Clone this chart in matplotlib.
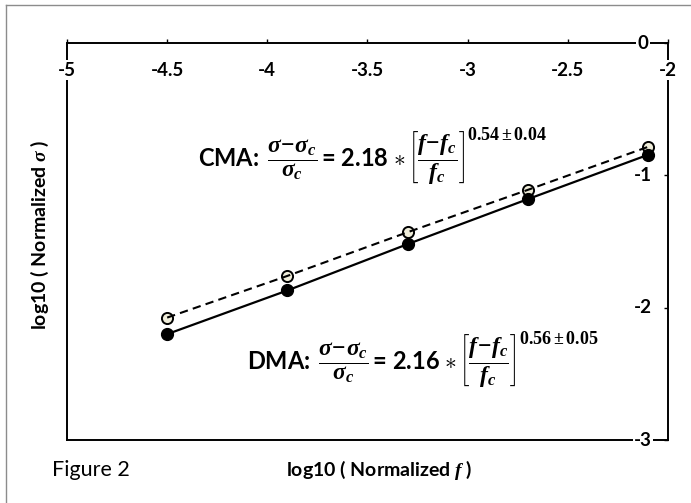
import matplotlib
matplotlib.use("Agg")
import matplotlib.pyplot as plt
from matplotlib.lines import Line2D

plt.rcParams['font.family'] = ['Lato', 'DejaVu Sans']
plt.rcParams['mathtext.fontset'] = 'custom'
plt.rcParams['mathtext.rm'] = 'Liberation Serif:bold'
plt.rcParams['mathtext.it'] = 'Liberation Serif:italic:bold'
plt.rcParams['mathtext.bf'] = 'Liberation Serif:bold'

# data
log_f = [-4.5, -3.9, -3.3, -2.7, -2.1]
dma_sigma = [-2.20, -1.87, -1.52, -1.18, -0.845]
cma_sigma = [-2.075, -1.76, -1.43, -1.11, -0.785]

x_ticks = [-5, -4.5, -4, -3.5, -3, -2.5, -2]
x_tick_labels = ['-5', '-4.5', '-4', '-3.5', '-3', '-2.5', '-2']
y_ticks = [0, -1, -2, -3]
y_tick_labels = ['0', '-1', '-2', '-3']

W, H = 691, 503
fig = plt.figure(figsize=(W / 100, H / 100), dpi=100)
ax = fig.add_axes([67 / W, 63 / H, 601 / W, 397 / H])

# open (CMA) markers under the dashed line, filled (DMA) on top
ax.plot(log_f, cma_sigma, linestyle='none', marker='o', markersize=8,
        markerfacecolor='#efedda', markeredgecolor='black', markeredgewidth=1.4, zorder=2)
ax.plot(log_f, cma_sigma, color='black', linewidth=1.5, linestyle=(0, (4, 2.5)), zorder=3)
ax.plot(log_f, dma_sigma, color='black', linewidth=1.6, zorder=3)
ax.plot(log_f, dma_sigma, linestyle='none', marker='o', markersize=8.5,
        markerfacecolor='black', markeredgecolor='black', zorder=4)

ax.set_xlim(-5, -2)
ax.set_ylim(-3, 0)
for s in ax.spines.values():
    s.set_linewidth(1.4)
    s.set_color('black')

ax.set_xticks(x_ticks)
ax.set_yticks(y_ticks)
ax.tick_params(axis='x', top=True, bottom=False, labeltop=False, labelbottom=False,
               direction='out', length=3, width=1)
ax.tick_params(axis='y', right=True, left=False, labelright=False, labelleft=False,
               direction='in', length=3, width=1)

# tick labels sit on the frame lines with a white backing
for xt, lab in zip(x_ticks, x_tick_labels):
    ax.annotate(lab, xy=(xt, 1), xycoords=('data', 'axes fraction'),
                xytext=(0, -19.5), textcoords='offset points', ha='center', va='center',
                fontsize=13.5, fontweight='bold', annotation_clip=False,
                bbox=dict(facecolor='white', edgecolor='none', pad=1), zorder=5)
for yt, lab in zip(y_ticks, y_tick_labels):
    ax.annotate(lab, xy=(1, yt), xycoords=('axes fraction', 'data'),
                xytext=(-18, 0), textcoords='offset points', ha='center', va='center',
                fontsize=13.5, fontweight='bold', annotation_clip=False,
                bbox=dict(facecolor='white', edgecolor='none', pad=1), zorder=5)

cma_eq = (r'CMA: $\,\dfrac{\sigma\!-\!\sigma_c}{\sigma_c}\,$= 2.18 '
          r'$\ast\,\left[\dfrac{f\!-\!f_c}{f_c}\right]$')
dma_eq = (r'DMA: $\,\dfrac{\sigma\!-\!\sigma_c}{\sigma_c}\,$= 2.16 '
          r'$\ast\,\left[\dfrac{f\!-\!f_c}{f_c}\right]$')
cma_exp = r'$\mathbf{0.54\pm0.04}$'
dma_exp = r'$\mathbf{0.56\pm0.05}$'

eqs = [(cma_eq, cma_exp, 198, 158), (dma_eq, dma_exp, 247, 362)]
renderer = fig.canvas.get_renderer()
for eq, ex, px, py in eqs:
    t = fig.text(px / W, 1 - py / H, eq, fontsize=17, fontweight='bold', ha='left', va='center')
    bb = t.get_window_extent(renderer)
    fig.text((bb.x1 + 2) / W, (bb.y1 + 4) / H, ex, fontsize=13, ha='left', va='top')

fig.text(40 / W, 1 - 235 / H, r'log10 ( Normalized $\sigma$ )', rotation=90,
         fontsize=14, fontweight='bold', ha='center', va='center')
fig.text(379 / W, 1 - 470 / H, r'log10 ( Normalized $f$ )',
         fontsize=14, fontweight='bold', ha='center', va='center')
fig.text(52 / W, 1 - 470 / H, 'Figure 2', fontsize=15.5, ha='left', va='center')

# grey outer frame (left and top edges visible)
fig.add_artist(Line2D([6 / W, 6 / W], [0, 1 - 5 / H], transform=fig.transFigure,
                      color='#8c8c8c', linewidth=1))
fig.add_artist(Line2D([6 / W, 1], [1 - 5 / H, 1 - 5 / H], transform=fig.transFigure,
                      color='#8c8c8c', linewidth=1))

fig.savefig('out.png', dpi=100)
